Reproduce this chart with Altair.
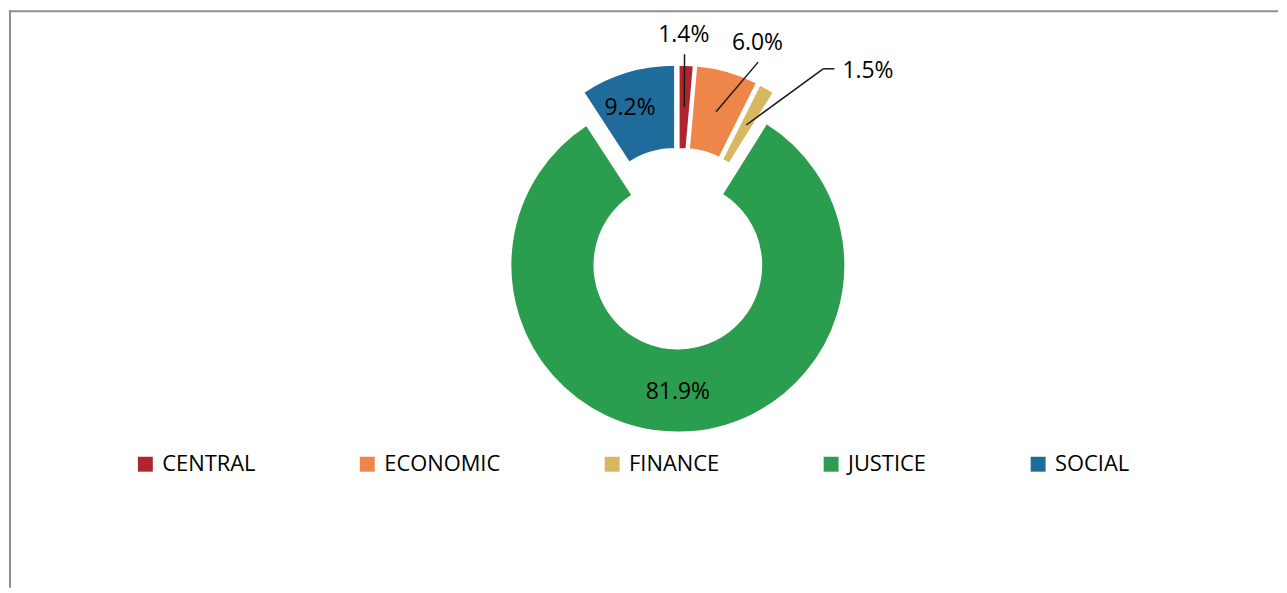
import math
import altair as alt
import pandas as pd

# ---- data ----
CATEGORIES = ["CENTRAL", "ECONOMIC", "FINANCE", "JUSTICE", "SOCIAL"]
SHARES = [1.4, 6.0, 1.5, 81.9, 9.2]
COLORS = ["#B0242E", "#EE8649", "#D8B762", "#2A9D4F", "#1F6B9C"]

# ---- style / layout (pixel offsets relative to the ring centre) ----
EXPLODE_DX = [1, 4, 7, 0, -3]
EXPLODE_DY = [-33, -33, -31, 0, -33]
LABEL_DX = [6, 80, 191, 0, -48]
LABEL_DY = [-231, -223, -195, 127, -158]
LEADER_KX = [6.7, 80.7, 146, None, None]
LEADER_KY = [-212, -204, -197.3, None, None]
LEADER_TX = [6.7, 80.7, 157.3, None, None]

W, H = 1275, 580
CX, CY = 672, 256
R_IN, R_OUT, R_MID = 84, 168, 126
FONT = "Open Sans"

df = pd.DataFrame({
    "category": CATEGORIES,
    "share": SHARES,
    "order": list(range(len(CATEGORIES))),
    "ex": EXPLODE_DX,
    "ey": EXPLODE_DY,
    "lx": LABEL_DX,
    "ly": LABEL_DY,
    "kx": LEADER_KX,
    "ky": LEADER_KY,
    "tx": LEADER_TX,
})

xs = alt.Scale(domain=[-CX, W - CX], range=[0, W], nice=False, zero=False)
ys = alt.Scale(domain=[-CY, H - CY], range=[0, H], nice=False, zero=False)


def X(f):
    return alt.X(f, type="quantitative", scale=xs, axis=None)


def Y(f):
    return alt.Y(f, type="quantitative", scale=ys, axis=None)


base = (
    alt.Chart(df)
    .transform_window(cum="sum(share)", sort=[alt.SortField("order")], frame=[None, 0])
    .transform_calculate(t0="datum.cum - datum.share")
    .transform_calculate(t1="datum.cum")
    .transform_calculate(ang="(datum.cum - datum.share / 2) / 100 * 2 * PI")
    .transform_calculate(ax=f"datum.ex + {R_MID} * sin(datum.ang)")
    .transform_calculate(ay=f"datum.ey - {R_MID} * cos(datum.ang)")
    .transform_calculate(label="format(datum.share, '.1f') + '%'")
)

arcs = base.mark_arc(
    innerRadius=R_IN, outerRadius=R_OUT, stroke="white", strokeWidth=1.5
).encode(
    theta=alt.Theta("t0:Q", scale=alt.Scale(domain=[0, 100], range=[0, 2 * math.pi]), stack=False),
    theta2="t1:Q",
    x=X("ex"),
    y=Y("ey"),
    color=alt.Color(
        "category:N",
        scale=alt.Scale(domain=CATEGORIES, range=COLORS),
        legend=alt.Legend(
            title=None,
            orient="none",
            legendX=126,
            legendY=445,
            direction="horizontal",
            symbolType="square",
            symbolSize=225,
            symbolStrokeWidth=0,
            labelFont=FONT,
            labelFontSize=22,
            labelColor="#000000",
            columnPadding=101,
            labelOffset=6,
            padding=0,
        ),
    ),
)

leaders = base.transform_filter("isValid(datum.kx)").mark_rule(
    color="#1a1a1a", strokeWidth=1.5
).encode(x=X("ax"), y=Y("ay"), x2="kx:Q", y2="ky:Q")

tails = base.transform_filter("isValid(datum.tx) && datum.tx != datum.kx").mark_rule(
    color="#1a1a1a", strokeWidth=1.5
).encode(x=X("kx"), y=Y("ky"), x2="tx:Q")

labels = base.mark_text(
    font=FONT, fontSize=23, color="#000000", align="center", baseline="middle"
).encode(x=X("lx"), y=Y("ly"), text="label:N")

frame_left = alt.Chart(pd.DataFrame({"a": [0]})).mark_rule(
    color="#8e8e8e", strokeWidth=2
).encode(x=alt.value(1), y=alt.value(0), y2=alt.value(H))

frame_top = alt.Chart(pd.DataFrame({"a": [0]})).mark_rule(
    color="#8e8e8e", strokeWidth=2
).encode(x=alt.value(0), x2=alt.value(W), y=alt.value(1))

chart = (
    alt.layer(arcs, leaders, tails, labels, frame_left, frame_top)
    .properties(width=W, height=H, padding=0, background="white")
    .configure_view(stroke=None)
)

chart.save("out.html", embed_options={"renderer": "svg", "actions": False})
